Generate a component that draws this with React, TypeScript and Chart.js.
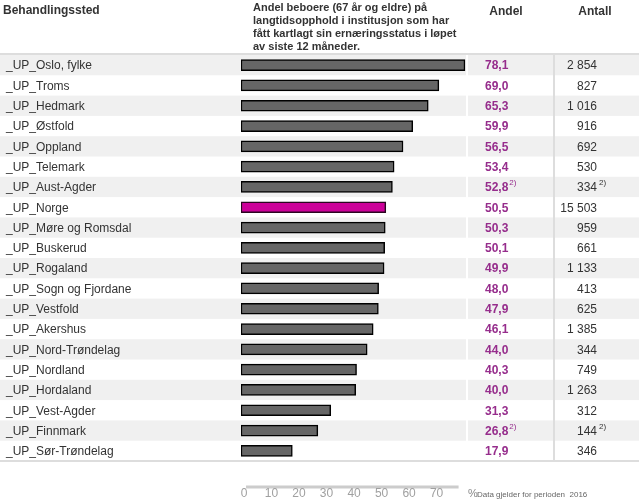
import { useEffect, useRef } from 'react';
import { Chart, registerables } from 'chart.js';

Chart.register(...registerables);

const categories = [
  '_UP_Oslo, fylke', '_UP_Troms', '_UP_Hedmark', '_UP_Østfold', '_UP_Oppland',
  '_UP_Telemark', '_UP_Aust-Agder', '_UP_Norge', '_UP_Møre og Romsdal', '_UP_Buskerud',
  '_UP_Rogaland', '_UP_Sogn og Fjordane', '_UP_Vestfold', '_UP_Akershus', '_UP_Nord-Trøndelag',
  '_UP_Nordland', '_UP_Hordaland', '_UP_Vest-Agder', '_UP_Finnmark', '_UP_Sør-Trøndelag',
];
const andel = [78.1, 69.0, 65.3, 59.9, 56.5, 53.4, 52.8, 50.5, 50.3, 50.1, 49.9, 48.0, 47.9, 46.1, 44.0, 40.3, 40.0, 31.3, 26.8, 17.9];
const antall = [2854, 827, 1016, 916, 692, 530, 334, 15503, 959, 661, 1133, 413, 625, 1385, 344, 749, 1263, 312, 144, 346];
const footnoteRows = ['_UP_Aust-Agder', '_UP_Finnmark'];
const footnoteMark = '2)';
const highlightCategory = '_UP_Norge';
const axisTicks = [0, 10, 20, 30, 40, 50, 60, 70];
const headerLabel = 'Behandlingssted';
const headerIndicator = [
  'Andel beboere (67 år og eldre) på',
  'langtidsopphold i institusjon som har',
  'fått kartlagt sin ernæringsstatus i løpet',
  'av siste 12 måneder.',
];
const headerAndel = 'Andel';
const headerAntall = 'Antall';
const unitLabel = '%';
const periodNote = 'Data gjelder for perioden  2016';

const FONT = '"Liberation Sans", Arial, Helvetica, sans-serif';
const VALUE_COLOR = '#962d8c';
const TEXT_COLOR = '#333333';

function fmtAndel(v: number) {
  return v.toFixed(1).replace('.', ',');
}
function fmtAntall(v: number) {
  return String(v).replace(/\B(?=(\d{3})+(?!\d))/g, ' ');
}

export default function App() {
  const ref = useRef<HTMLCanvasElement>(null);

  useEffect(() => {
    document.body.style.margin = '0';
    const canvas = ref.current;
    if (!canvas) return;

    const tablePlugin = {
      id: 'tablePlugin',
      beforeDraw(chart: any) {
        const { ctx, chartArea, scales } = chart;
        const y = scales.y;
        const n = categories.length;
        const h = (chartArea.bottom - chartArea.top) / n;
        ctx.save();
        ctx.fillStyle = '#ffffff';
        ctx.fillRect(0, 0, chart.width, chart.height);
        for (let i = 0; i < n; i++) {
          if (i % 2 === 0) {
            ctx.fillStyle = '#f0f0f0';
            ctx.fillRect(0, y.getPixelForValue(i) - h / 2, chart.width, h);
          }
        }
        ctx.fillStyle = '#ffffff';
        ctx.fillRect(466, chartArea.top, 2, chartArea.bottom - chartArea.top);
        ctx.fillStyle = '#dddddd';
        ctx.fillRect(0, chartArea.top - 2, chart.width, 2);
        ctx.fillRect(0, chartArea.bottom - 1, chart.width, 2);
        ctx.fillRect(553, chartArea.top, 2, chartArea.bottom - chartArea.top);
        ctx.restore();
      },
      afterDraw(chart: any) {
        const { ctx, scales } = chart;
        const y = scales.y;
        const x2 = scales.x2;
        ctx.save();
        ctx.fillStyle = TEXT_COLOR;
        ctx.textBaseline = 'alphabetic';
        ctx.textAlign = 'left';
        ctx.font = `bold 12px ${FONT}`;
        ctx.fillText(headerLabel, 3, 14);
        ctx.font = `bold 11px ${FONT}`;
        headerIndicator.forEach((line, i) => {
          ctx.fillText(line, 253, 10.5 + i * 13);
        });
        ctx.font = `bold 12px ${FONT}`;
        ctx.textAlign = 'center';
        ctx.fillText(headerAndel, 506, 15);
        ctx.fillText(headerAntall, 595, 15);

        categories.forEach((cat, i) => {
          const cy = y.getPixelForValue(i) + 1;
          ctx.textBaseline = 'middle';
          ctx.textAlign = 'left';
          ctx.font = `12px ${FONT}`;
          ctx.fillStyle = TEXT_COLOR;
          ctx.fillText(cat, 6, cy);

          const note = footnoteRows.includes(cat);
          const a = fmtAndel(andel[i]);
          ctx.font = `bold 12px ${FONT}`;
          ctx.fillStyle = VALUE_COLOR;
          ctx.fillText(a, 485, cy);
          if (note) {
            const w = ctx.measureText(a).width;
            ctx.font = `8px ${FONT}`;
            ctx.fillText(footnoteMark, 485 + w + 1, cy - 5);
          }

          ctx.font = `12px ${FONT}`;
          ctx.fillStyle = TEXT_COLOR;
          ctx.textAlign = 'right';
          ctx.fillText(fmtAntall(antall[i]), 597, cy);
          if (note) {
            ctx.textAlign = 'left';
            ctx.font = `8px ${FONT}`;
            ctx.fillText(footnoteMark, 599, cy - 5);
          }
        });

        const axisY = 487;
        ctx.fillStyle = '#cccccc';
        const left = x2.getPixelForValue(axisTicks[0]) + 2;
        const right = x2.getPixelForValue(78);
        ctx.fillRect(left, axisY - 1.5, right - left, 3);
        ctx.fillStyle = '#a0a0a0';
        ctx.font = `12px ${FONT}`;
        ctx.textAlign = 'center';
        ctx.textBaseline = 'middle';
        axisTicks.forEach((t) => {
          ctx.fillText(String(t), x2.getPixelForValue(t), 494);
        });
        ctx.textAlign = 'left';
        ctx.fillStyle = '#888888';
        ctx.font = `11px ${FONT}`;
        ctx.fillText(unitLabel, 468, 494);
        ctx.fillStyle = '#666666';
        ctx.font = `8px ${FONT}`;
        ctx.fillText(periodNote, 477, 495);
        ctx.restore();
      },
    };

    const chart = new Chart(canvas, {
      type: 'bar',
      data: {
        labels: categories,
        datasets: [
          {
            data: andel,
            xAxisID: 'x',
            yAxisID: 'y',
            backgroundColor: categories.map((c) => (c === highlightCategory ? '#cc0099' : '#666666')),
            borderColor: categories.map((c) => (c === highlightCategory ? '#2a0620' : '#000000')),
            borderWidth: 1.5,
            borderSkipped: false,
            barThickness: 11,
          },
        ],
      },
      options: {
        indexAxis: 'y',
        responsive: false,
        animation: false,
        devicePixelRatio: 1,
        layout: { padding: { left: 241, right: 168.6, top: 55, bottom: 39 } },
        scales: {
          x: { type: 'linear', min: 0, max: 80, display: false },
          x2: { type: 'linear', axis: 'x', position: 'bottom', min: -1.1, max: 82.3, display: false },
          y: { type: 'category', display: false, offset: true },
        },
        plugins: {
          legend: { display: false },
          tooltip: { enabled: false },
        },
      },
      plugins: [tablePlugin],
    } as any);

    return () => chart.destroy();
  }, []);

  return (
    <div style={{ position: 'absolute', left: 0, top: 0, width: 639, height: 500 }}>
      <canvas ref={ref} width={639} height={500} style={{ width: 639, height: 500 }} />
    </div>
  );
}
